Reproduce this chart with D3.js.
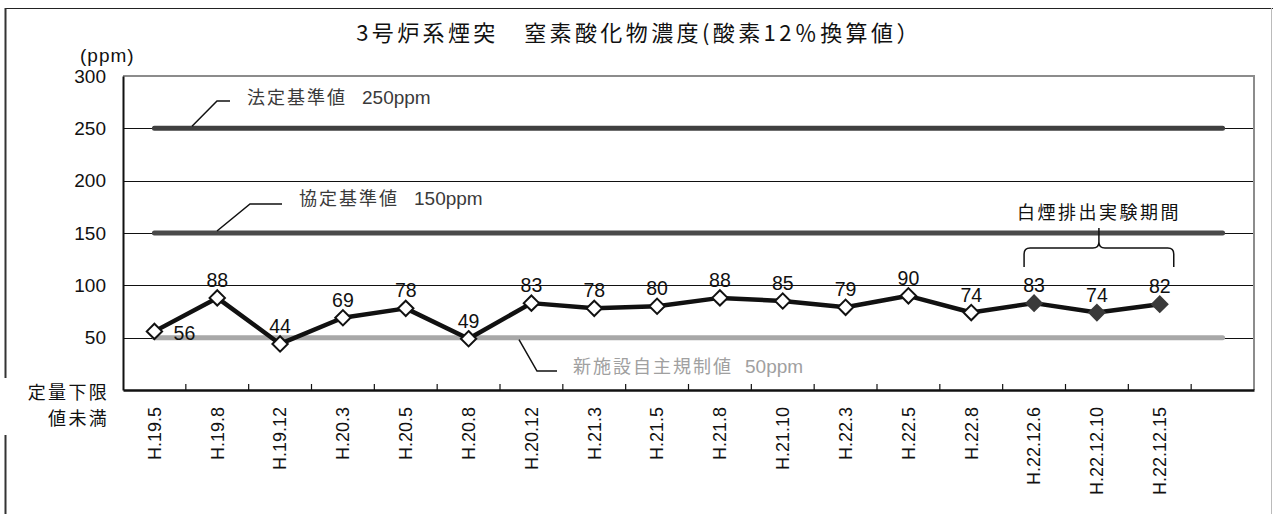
<!DOCTYPE html>
<html>
<head>
<meta charset="utf-8">
<script src="https://cdn.jsdelivr.net/npm/d3@7"></script>
<style>
  html, body { margin: 0; padding: 0; background: #fff; }
  svg { display: block; font-family: "Liberation Sans", Arial, "Noto Sans CJK JP", sans-serif; }
  .jp { font-family: "Noto Sans CJK JP", "Liberation Sans", sans-serif; }
  .num { font-family: "Liberation Sans", Arial, sans-serif; }
</style>
</head>
<body>
<svg id="chart" width="1275" height="514"></svg>
<script>
// Sampling dates (the last slot is left empty on the axis)
const categories = ["H.19.5", "H.19.8", "H.19.12", "H.20.3", "H.20.5", "H.20.8",
  "H.20.12", "H.21.3", "H.21.5", "H.21.8", "H.21.10", "H.22.3", "H.22.5",
  "H.22.8", "H.22.12.6", "H.22.12.10", "H.22.12.15", ""];
// Measured NOx concentration (ppm, O2 12% corrected)
const noxValues = [56, 88, 44, 69, 78, 49, 83, 78, 80, 88, 85, 79, 90, 74, 83, 74, 82];
// true = measured during the white-smoke discharge trial
const trialFlags = [false, false, false, false, false, false, false, false, false,
  false, false, false, false, false, true, true, true];
// Reference limits (ppm)
const legalLimit = 250;
const agreementLimit = 150;
const voluntaryLimit = 50;
const yTicks = [50, 100, 150, 200, 250, 300];

const svg = d3.select("#chart");
const plot = { left: 123, right: 1254, top: 76, bottom: 390 };

const x = d3.scaleBand().domain(d3.range(categories.length))
  .range([plot.left, plot.right]).paddingInner(0).paddingOuter(0);
const cx = i => x(i) + x.bandwidth() / 2;
const y = d3.scaleLinear().domain([0, 300]).range([plot.bottom, plot.top]);

// Outer frame
svg.append("line").attr("x1", 5).attr("x2", 1273).attr("y1", 8.5).attr("y2", 8.5)
  .attr("stroke", "#222").attr("stroke-width", 1.2);
svg.append("line").attr("x1", 5.5).attr("x2", 5.5).attr("y1", 8).attr("y2", 514)
  .attr("stroke", "#333").attr("stroke-width", 2);
svg.append("line").attr("x1", 1271.5).attr("x2", 1271.5).attr("y1", 8).attr("y2", 514)
  .attr("stroke", "#bbb").attr("stroke-width", 1);

// Title
svg.append("text").attr("class", "jp").attr("x", 639).attr("y", 41)
  .attr("text-anchor", "middle").attr("font-size", 22).attr("letter-spacing", 3.4)
  .attr("fill", "#111")
  .text("3号炉系煙突　窒素酸化物濃度(酸素12％換算値）");

// Unit label
svg.append("text").attr("class", "num").attr("x", 80).attr("y", 62)
  .attr("font-size", 19).attr("letter-spacing", 1).attr("fill", "#111").text("(ppm)");

// Horizontal gridlines
svg.append("g").selectAll("line").data(yTicks.filter(v => v < 300)).join("line")
  .attr("x1", plot.left).attr("x2", plot.right)
  .attr("y1", d => Math.round(y(d)) + 0.5).attr("y2", d => Math.round(y(d)) + 0.5)
  .attr("stroke", "#111").attr("stroke-width", 1);

// Plot border (top and right)
svg.append("path")
  .attr("d", `M${plot.left},${plot.top}H${plot.right}V${plot.bottom}`)
  .attr("fill", "none").attr("stroke", "#8c8c8c").attr("stroke-width", 2);

// Y axis
const yAxis = d3.axisLeft(y).tickValues(yTicks).tickSize(0).tickPadding(17);
const gy = svg.append("g").attr("transform", `translate(${plot.left},0)`).call(yAxis);
gy.select(".domain").attr("stroke", "#111").attr("stroke-width", 2);
gy.selectAll("text").attr("font-size", 19).attr("fill", "#111")
  .attr("font-family", "Liberation Sans, Arial, sans-serif");

// X axis with inward ticks at band boundaries
const xAxis = d3.axisBottom(x).tickFormat(i => categories[i]).tickSize(0).tickPadding(0);
const gx = svg.append("g").attr("transform", `translate(0,${plot.bottom})`).call(xAxis);
gx.select(".domain").attr("stroke", "#111").attr("stroke-width", 2.5);
gx.selectAll(".tick text")
  .attr("font-size", 18).attr("fill", "#111")
  .attr("font-family", "Liberation Sans, Arial, sans-serif")
  .attr("text-anchor", "end").attr("dy", "0.35em")
  .attr("transform", "translate(0,17) rotate(-90)")
  .attr("x", 0).attr("y", 0);
svg.append("g").selectAll("line").data(d3.range(1, categories.length)).join("line")
  .attr("x1", i => x(i)).attr("x2", i => x(i))
  .attr("y1", plot.bottom).attr("y2", plot.bottom - 6)
  .attr("stroke", "#111").attr("stroke-width", 1.2);

// Cover for the lower-limit note (sits over the frame)
svg.append("rect").attr("x", 0).attr("y", 378).attr("width", 112).attr("height", 57)
  .attr("fill", "#fff");
svg.append("text").attr("class", "jp").attr("x", 109).attr("y", 399)
  .attr("text-anchor", "end").attr("font-size", 18).attr("letter-spacing", 2.3)
  .attr("fill", "#111").text("定量下限");
svg.append("text").attr("class", "jp").attr("x", 109).attr("y", 425)
  .attr("text-anchor", "end").attr("font-size", 18).attr("letter-spacing", 2.3)
  .attr("fill", "#111").text("値未満");

// Reference limit lines spanning every category slot
const limitLine = d3.line().x((d, i) => cx(i)).y(d => y(d));
const limits = [
  { v: legalLimit, color: "#404040" },
  { v: agreementLimit, color: "#4a4a4a" },
  { v: voluntaryLimit, color: "#a8a8a8" }
];
svg.append("g").selectAll("path").data(limits).join("path")
  .attr("d", l => limitLine(categories.map(() => l.v)))
  .attr("fill", "none").attr("stroke", l => l.color)
  .attr("stroke-width", 5).attr("stroke-linecap", "round");

// Callout leaders and labels for the limits
function callout(pts, name, value, tx, ty, gap, color) {
  svg.append("path").attr("d", d3.line()(pts)).attr("fill", "none")
    .attr("stroke", "#111").attr("stroke-width", 1.5);
  const t = svg.append("text").attr("x", tx).attr("y", ty).attr("fill", color)
    .attr("font-size", 18);
  t.append("tspan").attr("class", "jp").attr("letter-spacing", 2).text(name);
  t.append("tspan").attr("class", "num").attr("dx", gap).attr("font-size", 19).text(value);
}
callout([[192, y(legalLimit) - 2], [217, 101], [230, 101]], "法定基準値", "250ppm", 247, 104, 15, "#3a3a3a");
callout([[217, y(agreementLimit) - 2], [250, 204], [282, 204]], "協定基準値", "150ppm", 299, 205, 15, "#3a3a3a");
callout([[519, y(voluntaryLimit) + 2], [537, 371], [557, 371]], "新施設自主規制値", "50ppm", 573, 373, 12, "#a0a0a0");

// Measured series
const dataLine = d3.line().x((d, i) => cx(i)).y(d => y(d));
svg.append("path").attr("d", dataLine(noxValues)).attr("fill", "none")
  .attr("stroke", "#111").attr("stroke-width", 4.5).attr("stroke-linejoin", "round");

const diamond = d3.symbol().type(d3.symbolDiamond2).size(150);
svg.append("g").selectAll("path").data(noxValues).join("path")
  .attr("d", diamond)
  .attr("transform", (d, i) => `translate(${cx(i)},${y(d)})`)
  .attr("fill", (d, i) => trialFlags[i] ? "#3a3a3a" : "#fff")
  .attr("stroke", (d, i) => trialFlags[i] ? "#3a3a3a" : "#111")
  .attr("stroke-width", 2);

// Value labels (the first one sits to the right of its marker)
svg.append("g").selectAll("text").data(noxValues).join("text")
  .attr("x", (d, i) => i === 0 ? cx(i) + 30 : cx(i))
  .attr("y", (d, i) => i === 0 ? y(d) + 9 : y(d) - 11)
  .attr("text-anchor", "middle").attr("font-size", 19.5).attr("fill", "#111")
  .text(d => d);

// Bracket marking the white-smoke discharge trial period
const firstTrial = trialFlags.indexOf(true);
const lastTrial = trialFlags.lastIndexOf(true);
const bx0 = cx(firstTrial) - 10, bx1 = cx(lastTrial) + 14;
const bmid = (bx0 + bx1) / 2, byTop = 248, byBot = 267;
svg.append("path")
  .attr("d", `M${bx0},${byBot} L${bx0},${byTop + 6} Q${bx0},${byTop} ${bx0 + 6},${byTop}
    L${bmid - 6},${byTop} Q${bmid},${byTop} ${bmid},${byTop - 6} L${bmid},${byTop - 20}
    M${bmid},${byTop - 6} Q${bmid},${byTop} ${bmid + 6},${byTop} L${bx1 - 6},${byTop}
    Q${bx1},${byTop} ${bx1},${byTop + 6} L${bx1},${byBot}`)
  .attr("fill", "none").attr("stroke", "#111").attr("stroke-width", 1.5);
svg.append("text").attr("class", "jp").attr("x", bmid).attr("y", 219)
  .attr("text-anchor", "middle").attr("font-size", 18).attr("letter-spacing", 2.5)
  .attr("fill", "#111").text("白煙排出実験期間");
</script>
</body>
</html>
